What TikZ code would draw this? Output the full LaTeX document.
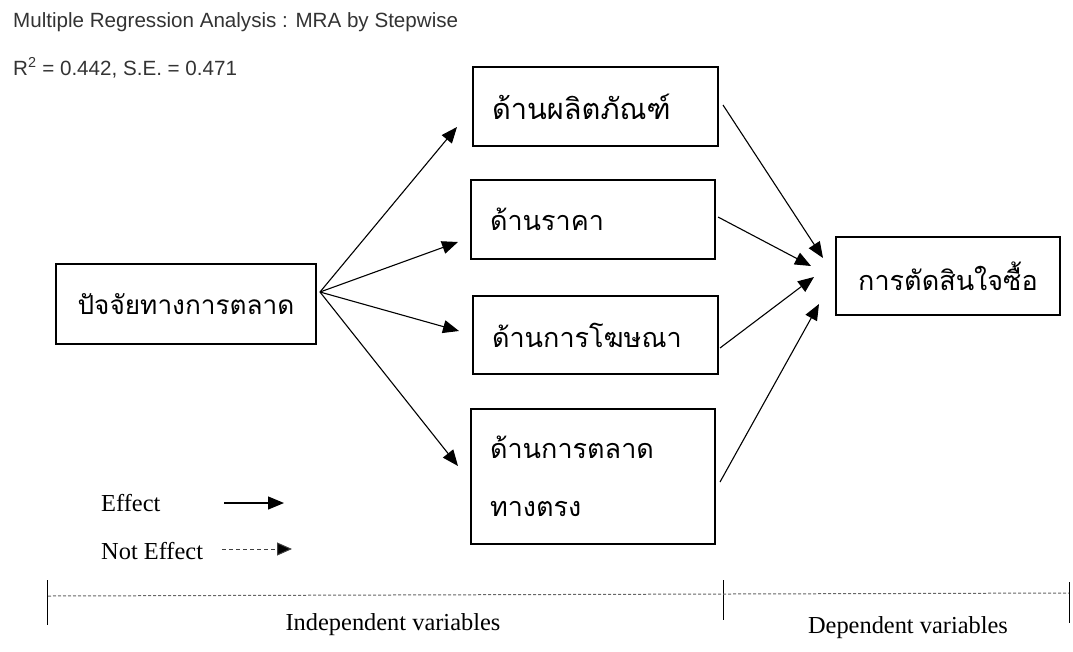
\documentclass[tikz,border=0pt]{standalone}
\usepackage{fontspec}
\setmainfont{Liberation Serif}
\newfontfamily\headfont{Liberation Sans}
\newfontfamily\thaifont[Script=Thai]{Loma}
\usetikzlibrary{arrows.meta}
\begin{document}
\begin{tikzpicture}[x=1pt,y=-1pt,
  box/.style={draw,line width=2pt,anchor=north west,inner xsep=19pt,inner ysep=0pt,
    align=left,font=\thaifont\fontsize{27}{58}\selectfont},
  link/.style={line width=1.1pt,-{Triangle[length=16pt,width=13pt]}},
  head/.style={anchor=west,inner sep=0pt,text=black!80,font=\headfont\fontsize{20.6}{22}\selectfont},
  legendtxt/.style={anchor=west,inner sep=0pt,font=\fontsize{24.4}{26}\selectfont},
  tick/.style={line width=1pt}]
\useasboundingbox (0,0) rectangle (1073,651);

% headings
\node[head] (title) at (13,22) {Multiple Regression Analysis : MRA by Stepwise};
\node[head] (fit) at (13,68) {R\textsuperscript{2} = 0.442, S.E. = 0.471};

% boxes
\node[box,minimum width=260pt,minimum height=80pt,text width=222pt,align=center,
  font=\thaifont\fontsize{26.2}{58}\selectfont] (src) at (55,263) {ปัจจัยทางการตลาด};
\node[box,minimum width=245pt,minimum height=79pt,text width=207pt,
  font=\thaifont\fontsize{29}{58}\selectfont] (b1) at (472,66) {ด้านผลิตภัณฑ์};
\node[box,minimum width=244pt,minimum height=79pt,text width=206pt] (b2) at (470,179) {ด้านราคา};
\node[box,minimum width=245pt,minimum height=78pt,text width=207pt] (b3) at (472,295) {ด้านการโฆษณา};
\node[box,minimum width=244pt,minimum height=135pt,text width=206pt] (b4) at (470,408) {ด้านการตลาด\\ทางตรง};
\node[box,minimum width=224pt,minimum height=78pt,text width=186pt,align=center] (dep) at (835,236) {การตัดสินใจซื้อ};

% connector end points
\coordinate (o) at (320,292);
\coordinate (t1) at (457,127);
\coordinate (t2) at (458,242);
\coordinate (t3) at (459,331);
\coordinate (t4) at (458,466);
\coordinate (s1) at (723,105);
\coordinate (s2) at (718,217);
\coordinate (s3) at (720,348);
\coordinate (s4) at (720,482);
\coordinate (e1) at (823,258);
\coordinate (e2) at (811,266);
\coordinate (e3) at (814,277);
\coordinate (e4) at (819,304);

\draw[link] (o) -- (t1);
\draw[link] (o) -- (t2);
\draw[link] (o) -- (t3);
\draw[link] (o) -- (t4);
\draw[link] (s1) -- (e1);
\draw[link] (s2) -- (e2);
\draw[link] (s3) -- (e3);
\draw[link] (s4) -- (e4);

% legend
\node[legendtxt] (eff) at (101,503) {Effect};
\node[legendtxt] (neff) at (101,551) {Not Effect};
\coordinate (la) at (224,503);
\coordinate (lb) at (284,503);
\coordinate (lc) at (222,549);
\coordinate (ld) at (292,549);
\draw[line width=1.3pt,-{Triangle[length=16pt,width=13pt]}] (la) -- (lb);
\draw[line width=1pt,black!75,dash pattern=on 4pt off 3pt,-{Triangle[length=15pt,width=13pt,fill=black]}] (lc) -- (ld);

% variable scale
\coordinate (k1a) at (47,580);  \coordinate (k1b) at (47,625);
\coordinate (k2a) at (723,580); \coordinate (k2b) at (723,620);
\coordinate (k3a) at (1069,582);\coordinate (k3b) at (1069,623);
\draw[tick] (k1a) -- (k1b);
\draw[tick] (k2a) -- (k2b);
\draw[tick] (k3a) -- (k3b);
\coordinate (da) at (48,596);
\coordinate (db) at (1069,593);
\draw[black!60,line width=1pt,dash pattern=on 3pt off 2pt] (da) -- (db);
\node[legendtxt,anchor=center] (ind) at (393,625) {Independent variables};
\node[legendtxt,anchor=center] (dv) at (908,628) {Dependent variables};
\end{tikzpicture}
\end{document}
